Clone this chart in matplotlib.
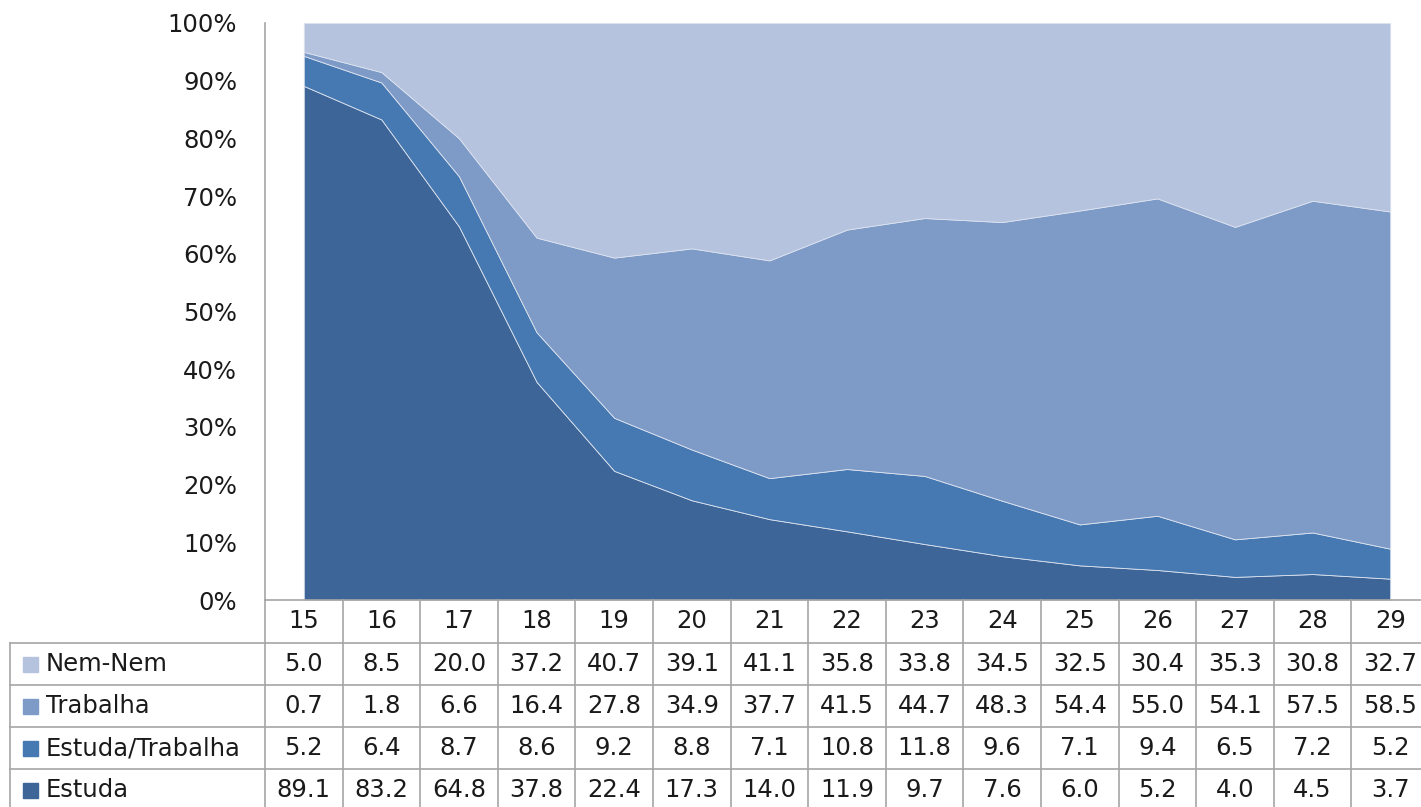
import matplotlib
matplotlib.use("Agg")
import matplotlib.pyplot as plt
from matplotlib.transforms import blended_transform_factory
from matplotlib.lines import Line2D
from matplotlib.patches import Rectangle
import numpy as np

ages = [15, 16, 17, 18, 19, 20, 21, 22, 23, 24, 25, 26, 27, 28, 29]
nem_nem = [5.0, 8.5, 20.0, 37.2, 40.7, 39.1, 41.1, 35.8, 33.8, 34.5, 32.5, 30.4, 35.3, 30.8, 32.7]
trabalha = [0.7, 1.8, 6.6, 16.4, 27.8, 34.9, 37.7, 41.5, 44.7, 48.3, 54.4, 55.0, 54.1, 57.5, 58.5]
estuda_trabalha = [5.2, 6.4, 8.7, 8.6, 9.2, 8.8, 7.1, 10.8, 11.8, 9.6, 7.1, 9.4, 6.5, 7.2, 5.2]
estuda = [89.1, 83.2, 64.8, 37.8, 22.4, 17.3, 14.0, 11.9, 9.7, 7.6, 6.0, 5.2, 4.0, 4.5, 3.7]
series_names = ["Nem-Nem", "Trabalha", "Estuda/Trabalha", "Estuda"]
yticks = [0, 10, 20, 30, 40, 50, 60, 70, 80, 90, 100]

colors = {"Estuda": "#3D6598", "Estuda/Trabalha": "#4678B1",
          "Trabalha": "#7E9BC8", "Nem-Nem": "#B5C3DE"}

W, H = 1421, 807
FS = 17.5
TXT = "#1A1A1A"
plt.rcParams['font.family'] = ['DejaVu Sans']
fig = plt.figure(figsize=(W / 100, H / 100), dpi=100)
ax_left, ax_right, ax_top, ax_bot = 265, 1429, 23, 600
ax = fig.add_axes([ax_left / W, 1 - ax_bot / H, (ax_right - ax_left) / W, (ax_bot - ax_top) / H])

x = np.array(ages)
stack_order = [("Estuda", estuda), ("Estuda/Trabalha", estuda_trabalha),
               ("Trabalha", trabalha), ("Nem-Nem", nem_nem)]
vals = [np.array(v) for _, v in stack_order]
totals = np.sum(vals, axis=0)
fracs = [v / totals * 100 for v in vals]
ax.stackplot(x, *fracs, colors=[colors[n] for n, _ in stack_order],
             edgecolor="#DCE3EF", linewidth=0.6)

ax.set_xlim(14.5, 29.5)
ax.set_ylim(0, 100)
ax.set_yticks(yticks)
ax.set_yticklabels([f"{t}%" for t in yticks], fontsize=FS, color=TXT)
ax.tick_params(axis='y', length=0, pad=20)
ax.set_xticks([])
for s in ["top", "right", "bottom"]:
    ax.spines[s].set_visible(False)
ax.spines["left"].set_color("#A6A6A6")
ax.spines["left"].set_linewidth(1.2)

# data table below the axis
tr = blended_transform_factory(ax.transData, fig.transFigure)
def fy(py):
    return 1 - py / H

line_col = "#A6A6A6"
row_bounds = [600, 643, 685, 727, 769, 811]
fig.add_artist(Line2D([ax_left / W, 1.01], [fy(600), fy(600)], color=line_col, lw=1.2))
for py in row_bounds[1:-1]:
    fig.add_artist(Line2D([10 / W, 1.01], [fy(py), fy(py)], color=line_col, lw=1.2))
fig.add_artist(Line2D([10 / W, 10 / W], [fy(643), fy(811)], color=line_col, lw=1.2))
fig.add_artist(Line2D([ax_left / W, ax_left / W], [fy(600), fy(811)], color=line_col, lw=1.2))
for a in ages:
    ax.add_artist(Line2D([a + 0.5, a + 0.5], [fy(600), fy(811)], transform=tr,
                         color=line_col, lw=1.2, clip_on=False))

hy = (row_bounds[0] + row_bounds[1]) / 2
for a in ages:
    ax.text(a, fy(hy), str(a), transform=tr, ha="center", va="center",
            fontsize=FS, color=TXT, clip_on=False)

rows = [("Nem-Nem", nem_nem), ("Trabalha", trabalha),
        ("Estuda/Trabalha", estuda_trabalha), ("Estuda", estuda)]
for i, (name, v) in enumerate(rows):
    cy = (row_bounds[i + 1] + row_bounds[i + 2]) / 2
    fig.add_artist(Rectangle((23 / W, fy(cy + 7.5)), 15 / W, 15 / H,
                             transform=fig.transFigure, color=colors[name]))
    fig.text(46 / W, fy(cy), name, ha="left", va="center", fontsize=FS, color=TXT)
    for a, val in zip(ages, v):
        ax.text(a, fy(cy), f"{val:.1f}", transform=tr, ha="center", va="center",
                fontsize=FS, color=TXT, clip_on=False)

fig.savefig("out.png", dpi=100)
